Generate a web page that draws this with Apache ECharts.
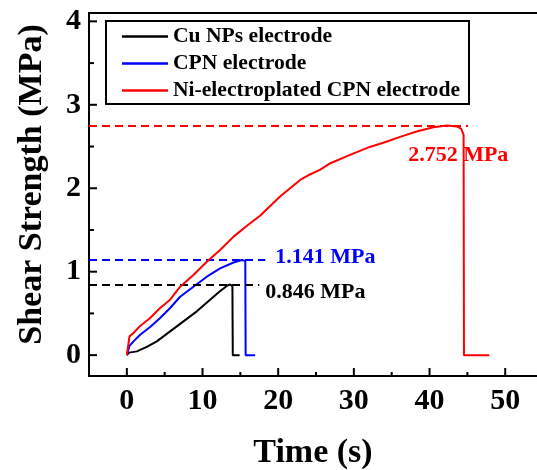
<!DOCTYPE html>
<html><head><meta charset="utf-8">
<script src="https://cdn.jsdelivr.net/npm/echarts@6/dist/echarts.min.js"></script>
<style>html,body{margin:0;padding:0;background:#fff}#c{width:537px;height:470px}</style>
</head><body><div id="c"></div>
<script>
// ---- data ----
const seriesNames = ['Cu NPs electrode', 'CPN electrode', 'Ni-electroplated CPN electrode'];
const cuTime  = [0, 0.3, 1.32, 2.64, 3.96, 5.72, 7.48, 9.25, 11.0, 12.3, 13.3, 13.65, 13.95, 14.0, 14.9];
const cuShear = [0, 0.03, 0.045, 0.098, 0.165, 0.285, 0.405, 0.525, 0.665, 0.765, 0.835, 0.846, 0.83, 0, 0];
const cpnTime  = [0, 0.35, 0.88, 1.76, 3.08, 4.4, 5.72, 7.04, 8.8, 10.57, 12.33, 14.1, 15.2, 15.65, 15.7, 16.95];
const cpnShear = [0, 0.11, 0.165, 0.245, 0.337, 0.445, 0.565, 0.70, 0.82, 0.94, 1.04, 1.11, 1.141, 1.13, 0, 0];
const niTime  = [0, 0.35, 0.88, 1.76, 3.08, 4.4, 5.72, 7.04, 8.8, 10.57, 12.33, 14.1, 16.3, 17.6, 20.25, 22.9, 24.2, 25.5, 26.9, 29.5, 32.1, 33.9, 36.1, 38.3, 40.5, 42.3, 43.6, 44.2, 44.5, 44.55, 47.9];
const niShear = [0, 0.225, 0.265, 0.35, 0.445, 0.565, 0.665, 0.82, 0.96, 1.12, 1.26, 1.42, 1.58, 1.67, 1.90, 2.10, 2.165, 2.22, 2.30, 2.40, 2.495, 2.545, 2.615, 2.68, 2.73, 2.752, 2.74, 2.71, 2.64, 0, 0];
const peakValues = [0.846, 1.141, 2.752];
const peakLabels = ['0.846 MPa', '1.141 MPa', '2.752 MPa'];
const dashEnds = [17.5, 18.3, 45.1];
const xMajorTicks = [0, 10, 20, 30, 40, 50];
const xMinorTicks = [5, 15, 25, 35, 45];
const yMajorTicks = [0, 1, 2, 3, 4];
const yMinorTicks = [0.5, 1.5, 2.5, 3.5];
const colors = ['#000000', '#0000ff', '#ff0000'];

const FONT = 'Liberation Serif';
const zip = (a, b) => a.map((v, i) => [v, b[i]]);
const curves = [zip(cuTime, cuShear), zip(cpnTime, cpnShear), zip(niTime, niShear)];
const xMin = -5, xMax = 54.2, yMin = -0.25, yMax = 4.1;
const labelOffsets = [[1, 8], [5, -3], [-65, 30]];

const series = [];
curves.forEach((d, i) => {
  series.push({
    name: seriesNames[i], type: 'line', data: d, showSymbol: false, symbol: 'none',
    lineStyle: { color: colors[i], width: 2 }, itemStyle: { color: colors[i] },
    animation: false, z: 3 + i,
    markLine: {
      silent: true, symbol: ['none', 'none'], animation: false,
      lineStyle: { color: colors[i], type: [8, 5], width: 2 },
      label: { show: false },
      data: [[{ coord: [xMin, peakValues[i]] }, { coord: [dashEnds[i], peakValues[i]] }]]
    }
  });
});
peakLabels.forEach((t, i) => {
  series.push({
    type: 'scatter', symbolSize: 0, silent: true, animation: false,
    itemStyle: { opacity: 1, color: colors[i] },
    data: [[dashEnds[i], peakValues[i]]],
    label: { show: true, position: 'right', distance: 5, offset: labelOffsets[i], formatter: t, opacity: 1,
      color: colors[i], fontFamily: FONT, fontWeight: 'bold', fontSize: 22 }
  });
});

// inward tick marks drawn through the axis scales
function tickSeries(values, dir, len) {
  const data = values.map(v => dir === 'x' ? [v, yMin] : [xMin, v]);
  return {
    type: 'custom', silent: true, animation: false, clip: false, z: 20,
    encode: { x: 0, y: 1 },
    data: data,
    renderItem: function (params, api) {
      const p = api.coord([api.value(0), api.value(1)]);
      const shape = dir === 'x'
        ? { x1: p[0], y1: p[1], x2: p[0], y2: p[1] - len }
        : { x1: p[0], y1: p[1], x2: p[0] + len, y2: p[1] };
      return { type: 'line', shape: shape, style: { stroke: '#000', lineWidth: 2 } };
    }
  };
}
series.push(tickSeries(xMajorTicks, 'x', 8));
series.push(tickSeries(xMinorTicks, 'x', 4));
series.push(tickSeries(yMajorTicks, 'y', 8));
series.push(tickSeries(yMinorTicks, 'y', 5));

const chart = echarts.init(document.getElementById('c'), null, { renderer: 'canvas' });
chart.setOption({
  animation: false,
  backgroundColor: '#fff',
  grid: { left: 89, right: 0, top: 13, bottom: 94, containLabel: false, outerBoundsMode: 'none' },
  legend: {
    data: seriesNames, orient: 'vertical', left: 106, top: 21,
    padding: [4, 9, 2, 16], itemGap: 4, itemWidth: 46, itemHeight: 2.5, icon: 'rect',
    borderColor: '#000', borderWidth: 2, backgroundColor: '#fff',
    textStyle: { fontFamily: FONT, fontWeight: 'bold', fontSize: 21.6, color: '#000', lineHeight: 23 }
  },
  xAxis: [
    { type: 'value', min: xMin, max: xMax, position: 'bottom',
      name: 'Time (s)', nameLocation: 'middle', nameGap: 60,
      nameTextStyle: { fontFamily: FONT, fontWeight: 'bold', fontSize: 34, color: '#000' },
      axisLine: { show: true, onZero: false, lineStyle: { color: '#000', width: 2 } },
      axisTick: { show: false },
      axisLabel: { show: true, customValues: xMajorTicks, margin: 10, fontFamily: FONT, fontWeight: 'bold', fontSize: 30, color: '#000' },
      splitLine: { show: false } },
    { type: 'value', min: xMin, max: xMax, position: 'top',
      axisLine: { show: true, onZero: false, lineStyle: { color: '#000', width: 2 } },
      axisTick: { show: false }, axisLabel: { show: false }, splitLine: { show: false } }
  ],
  yAxis: [
    { type: 'value', min: yMin, max: yMax, position: 'left',
      name: 'Shear Strength (MPa)', nameLocation: 'middle', nameGap: 40, nameRotate: 90,
      nameTextStyle: { fontFamily: FONT, fontWeight: 'bold', fontSize: 34, color: '#000', padding: [0, 0, 0, 20] },
      axisLine: { show: true, onZero: false, lineStyle: { color: '#000', width: 2 } },
      axisTick: { show: false },
      axisLabel: { show: true, customValues: yMajorTicks, margin: 8, fontFamily: FONT, fontWeight: 'bold', fontSize: 30, color: '#000' },
      splitLine: { show: false } }
  ],
  series: series
});
</script></body></html>
